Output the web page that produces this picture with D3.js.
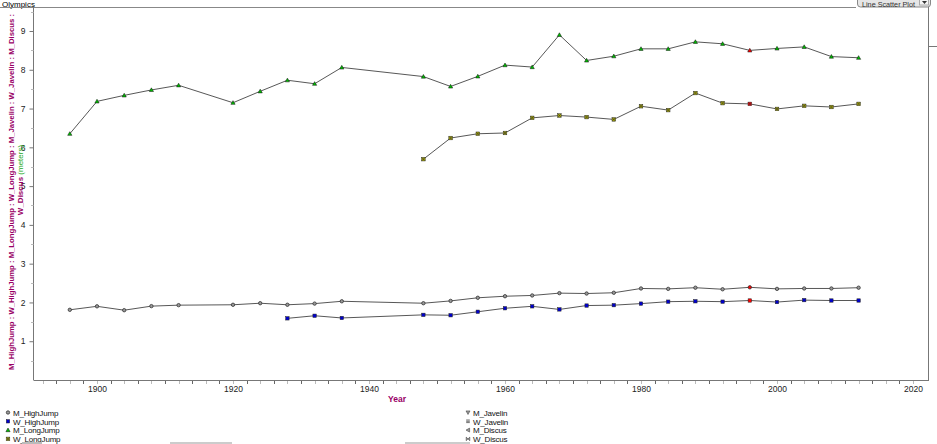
<!DOCTYPE html>
<html><head><meta charset="utf-8">
<script src="https://cdn.jsdelivr.net/npm/d3@7"></script>
<style>
html,body{margin:0;padding:0;background:#fff;overflow:hidden;}
svg{display:block;font-family:"Liberation Sans",Arial,sans-serif;}
</style></head>
<body><svg id="c" width="937" height="444"></svg>
<script>
// ---- data ----
const yearsM = [1896,1900,1904,1908,1912,1920,1924,1928,1932,1936,1948,1952,1956,1960,1964,1968,1972,1976,1980,1984,1988,1992,1996,2000,2004,2008,2012];
const yearsW_HJ = [1928,1932,1936,1948,1952,1956,1960,1964,1968,1972,1976,1980,1984,1988,1992,1996,2000,2004,2008,2012];
const yearsW_LJ = [1948,1952,1956,1960,1964,1968,1972,1976,1980,1984,1988,1992,1996,2000,2004,2008,2012];
const M_HighJump = [1.81,1.90,1.80,1.905,1.93,1.94,1.98,1.94,1.97,2.03,1.98,2.04,2.12,2.16,2.18,2.24,2.23,2.25,2.36,2.35,2.38,2.34,2.39,2.35,2.36,2.36,2.38];
const W_HighJump = [1.59,1.657,1.60,1.68,1.67,1.76,1.85,1.90,1.82,1.92,1.93,1.97,2.02,2.03,2.02,2.05,2.01,2.06,2.05,2.05];
const M_LongJump = [6.35,7.185,7.34,7.48,7.60,7.15,7.445,7.73,7.64,8.06,7.825,7.57,7.83,8.12,8.07,8.90,8.24,8.35,8.54,8.54,8.72,8.67,8.50,8.55,8.59,8.34,8.31];
const W_LongJump = [5.695,6.24,6.35,6.37,6.76,6.82,6.78,6.72,7.06,6.96,7.40,7.14,7.12,6.99,7.07,7.04,7.12];
const highlightYear = 1996;
const seriesNames = ["M_HighJump","W_HighJump","M_LongJump","W_LongJump","M_Javelin","W_Javelin","M_Discus","W_Discus"];
const yTicks = [1,2,3,4,5,6,7,8,9];
const xTicks = [1900,1920,1940,1960,1980,2000,2020];
const title = "Olympics";
const xLabel = "Year";
const yLabelLine1 = "M_HighJump : W_HighJump : M_LongJump : W_LongJump : M_Javelin : W_Javelin : M_Discus :";
const yLabelLine2a = "W_Discus ";
const yLabelLine2b = "(meters)";

// ---- layout ----
const svg = d3.select("#c");
const L = 34, R = 929, T = 7, B = 380;
const x = d3.scaleLinear().domain([1900 - 63/6.8, 2020 + 16/6.8]).range([L, R]);
const y = d3.scaleLinear().domain([0, 9 + 24/38.78]).range([B, T]);
const FONT = "Liberation Sans, Arial, sans-serif";

// title + top separator
svg.append("text").attr("x", 2).attr("y", 6.8).attr("font-size", 8).attr("fill", "#000").attr("font-family", FONT).text(title);
svg.append("line").attr("x1", 0).attr("x2", 856).attr("y1", 7.5).attr("y2", 7.5).attr("stroke", "#888");

// dropdown
const dd = svg.append("g");
dd.append("rect").attr("x", 857.5).attr("y", -6).attr("width", 73).attr("height", 13).attr("rx", 3).attr("fill", "#e6e6e6").attr("stroke", "#888");
dd.append("text").attr("x", 862).attr("y", 6.5).attr("font-size", 7.5).attr("fill", "#333").attr("font-family", FONT)
  .attr("textLength", 53).attr("lengthAdjust", "spacingAndGlyphs").text("Line Scatter Plot");
dd.append("rect").attr("x", 919.5).attr("y", -4).attr("width", 9).attr("height", 9).attr("fill", "#f4f4f4").attr("stroke", "#aaa");
dd.append("path").attr("d", "M922,1 L927,1 L924.5,4 Z").attr("fill", "#333");

// plot frame lines
svg.append("line").attr("x1", L - 0.5).attr("x2", L - 0.5).attr("y1", T).attr("y2", B).attr("stroke", "#777");
svg.append("line").attr("x1", R - 0.5).attr("x2", R - 0.5).attr("y1", T).attr("y2", B).attr("stroke", "#777");
svg.append("line").attr("x1", L - 0.5).attr("x2", R).attr("y1", B + 0.5).attr("y2", B + 0.5).attr("stroke", "#777");
svg.append("line").attr("x1", R).attr("x2", 937).attr("y1", 46.5).attr("y2", 46.5).attr("stroke", "#777");

// y axis
const yAxis = d3.axisLeft(y).tickValues(yTicks).tickSize(4).tickFormat(d3.format("d"));
const gy = svg.append("g").attr("transform", `translate(${L - 0.5},0)`).call(yAxis);
gy.select(".domain").remove();
gy.selectAll("line").attr("stroke", "#777");
gy.selectAll("text").attr("font-size", 8.5).attr("font-family", FONT).attr("fill", "#222").attr("dx", -1);
const yMinor = d3.range(0.5, 9.6, 1);
svg.append("g").selectAll("line").data(yMinor).join("line")
  .attr("x1", L - 3).attr("x2", L - 0.5).attr("y1", d => Math.round(y(d)) + 0.5).attr("y2", d => Math.round(y(d)) + 0.5).attr("stroke", "#bbb");

// x axis
const xAxis = d3.axisBottom(x).tickValues(xTicks).tickSize(0).tickFormat(d3.format("d"));
const gx = svg.append("g").attr("transform", `translate(0,${B})`).call(xAxis);
gx.select(".domain").remove();
gx.selectAll("text").attr("font-size", 8.5).attr("font-family", FONT).attr("fill", "#222").attr("dy", "1.05em");
const xMinor = d3.range(1892, 2022, 2);
svg.append("g").selectAll("line").data(xMinor).join("line")
  .attr("x1", d => Math.round(x(d)) + 0.5).attr("x2", d => Math.round(x(d)) + 0.5)
  .attr("y1", B + 1).attr("y2", B + 4)
  .attr("stroke", (d, i) => (i % 2 ? "#666" : "#bbb"));

svg.append("text").attr("x", 397).attr("y", 402).attr("text-anchor", "middle").attr("font-size", 8.5)
  .attr("font-family", FONT).attr("font-weight", "bold").attr("fill", "#990066").text(xLabel);

// y label
const yl = svg.append("text").attr("transform", "translate(14,192) rotate(-90)").attr("text-anchor", "middle")
  .attr("font-size", 8).attr("font-weight", "bold").attr("fill", "#990066").attr("font-family", FONT);
yl.append("tspan").attr("x", 0).attr("dy", 0).attr("textLength", 356).attr("lengthAdjust", "spacingAndGlyphs").text(yLabelLine1);
const yl2 = svg.append("text").attr("transform", "translate(23,180) rotate(-90)").attr("text-anchor", "middle")
  .attr("font-size", 8).attr("font-weight", "bold").attr("fill", "#990066").attr("font-family", FONT);
yl2.append("tspan").text(yLabelLine2a);
yl2.append("tspan").attr("fill", "#22aa22").attr("font-weight", "normal").text(yLabelLine2b);

// ---- series ----
const line = d3.line().x(d => x(d[0])).y(d => y(d[1]));
const series = [
  {name: "M_HighJump", years: yearsM, vals: M_HighJump, shape: "circle", fill: "#999"},
  {name: "W_HighJump", years: yearsW_HJ, vals: W_HighJump, shape: "square", fill: "#0000cc"},
  {name: "M_LongJump", years: yearsM, vals: M_LongJump, shape: "triangle", fill: "#00bb00"},
  {name: "W_LongJump", years: yearsW_LJ, vals: W_LongJump, shape: "xsquare", fill: "#aaaa00"}
];
function marker(g, shape, cx, cy, fill) {
  if (shape === "circle") {
    g.append("circle").attr("cx", cx).attr("cy", cy).attr("r", 1.7).attr("fill", fill).attr("stroke", "#333").attr("stroke-width", 0.8);
  } else if (shape === "square") {
    g.append("rect").attr("x", cx - 1.7).attr("y", cy - 1.7).attr("width", 3.4).attr("height", 3.4).attr("fill", fill).attr("stroke", "#222").attr("stroke-width", 0.5);
  } else if (shape === "triangle") {
    g.append("path").attr("d", `M${cx},${cy - 2.1} L${cx + 2.1},${cy + 1.6} L${cx - 2.1},${cy + 1.6} Z`).attr("fill", fill).attr("stroke", "#111").attr("stroke-width", 0.5);
  } else if (shape === "xsquare") {
    g.append("rect").attr("x", cx - 1.8).attr("y", cy - 1.8).attr("width", 3.6).attr("height", 3.6).attr("fill", fill).attr("stroke", "#333").attr("stroke-width", 0.5);
    g.append("path").attr("d", `M${cx - 1.6},${cy - 1.6} L${cx + 1.6},${cy + 1.6} M${cx + 1.6},${cy - 1.6} L${cx - 1.6},${cy + 1.6}`).attr("stroke", "#333").attr("stroke-width", 0.6);
  } else if (shape === "tridown") {
    g.append("path").attr("d", `M${cx},${cy + 2} L${cx + 2},${cy - 1.6} L${cx - 2},${cy - 1.6} Z`).attr("fill", "#999").attr("stroke", "#333").attr("stroke-width", 0.5);
  } else if (shape === "bars") {
    g.append("path").attr("d", `M${cx - 1.8},${cy - 1.3} H${cx + 1.8} M${cx - 1.8},${cy} H${cx + 1.8} M${cx - 1.8},${cy + 1.3} H${cx + 1.8}`).attr("stroke", "#333").attr("stroke-width", 0.7);
  } else if (shape === "trileft") {
    g.append("path").attr("d", `M${cx - 2},${cy} L${cx + 1.6},${cy - 2} L${cx + 1.6},${cy + 2} Z`).attr("fill", "#999").attr("stroke", "#333").attr("stroke-width", 0.5);
  } else if (shape === "bowtie") {
    g.append("path").attr("d", `M${cx - 1.8},${cy - 1.8} L${cx + 1.8},${cy + 1.8} L${cx + 1.8},${cy - 1.8} L${cx - 1.8},${cy + 1.8} Z`).attr("fill", "#999").attr("stroke", "#333").attr("stroke-width", 0.5);
  }
}
const gs = svg.append("g");
series.forEach(s => {
  const pts = s.years.map((yr, i) => [yr, s.vals[i]]);
  gs.append("path").datum(pts).attr("d", line).attr("fill", "none").attr("stroke", "#444").attr("stroke-width", 0.9);
});
series.forEach(s => {
  s.years.forEach((yr, i) => {
    const f = yr === highlightYear ? "#ff0000" : s.fill;
    marker(gs, s.shape, x(yr), y(s.vals[i]), f);
  });
});

// ---- legend ----
const shapes = ["circle","square","triangle","xsquare","tridown","bars","trileft","bowtie"];
const fills = ["#999","#0000cc","#00bb00","#aaaa00","#999","#999","#999","#999"];
const lg = svg.append("g").attr("fill", "#111");
seriesNames.forEach((n, i) => {
  const col = Math.floor(i / 4), row = i % 4;
  const lx = col ? 468 : 8, ly = 413 + row * 8.8;
  marker(lg, shapes[i], lx, ly - 0.5, fills[i]);
  lg.append("text").attr("x", lx + 5).attr("y", ly + 2.8).attr("font-size", 8).attr("font-family", FONT)
    .attr("letter-spacing", -0.2).text(n);
});
// cut-off row remnants at bottom
svg.append("rect").attr("x", 170).attr("y", 442).attr("width", 62).attr("height", 2).attr("fill", "#ccc");
svg.append("rect").attr("x", 405).attr("y", 442).attr("width", 65).attr("height", 2).attr("fill", "#ccc");
svg.append("rect").attr("x", 22).attr("y", 442).attr("width", 20).attr("height", 2).attr("fill", "#bbb");
</script></body></html>
